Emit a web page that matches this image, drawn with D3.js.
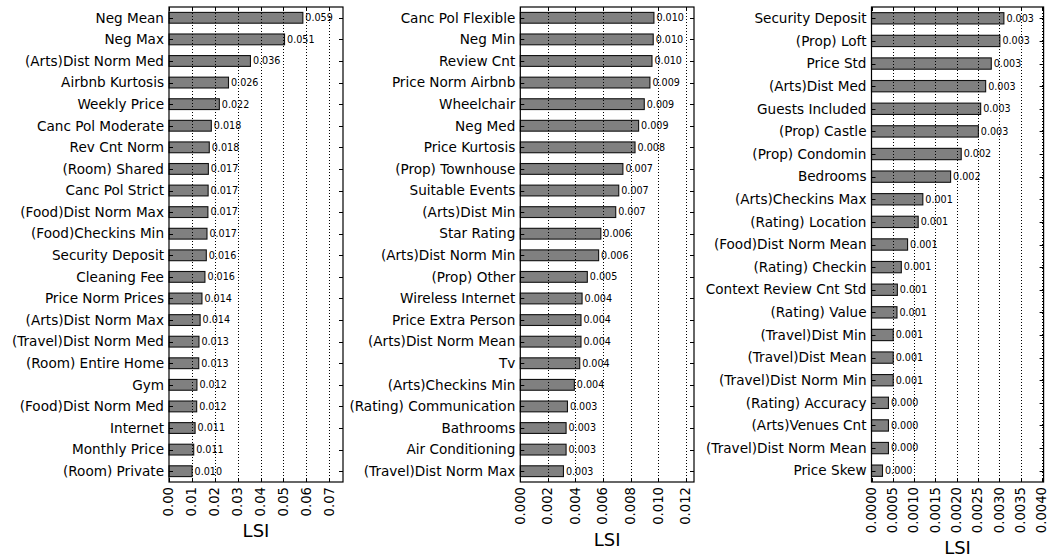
<!DOCTYPE html>
<html>
<head>
<meta charset="utf-8">
<script src="https://cdn.jsdelivr.net/npm/d3@7"></script>
<style>
  html, body { margin: 0; padding: 0; background: #fff; }
  svg { display: block; font-family: "DejaVu Sans", sans-serif; }
</style>
</head>
<body>
<svg id="chart" width="1048" height="558"></svg>
<script>
// Feature importance (LSI) split into three ranked groups
const names1 = ["Neg Mean", "Neg Max", "(Arts)Dist Norm Med", "Airbnb Kurtosis", "Weekly Price",
  "Canc Pol Moderate", "Rev Cnt Norm", "(Room) Shared", "Canc Pol Strict", "(Food)Dist Norm Max",
  "(Food)Checkins Min", "Security Deposit", "Cleaning Fee", "Price Norm Prices", "(Arts)Dist Norm Max",
  "(Travel)Dist Norm Med", "(Room) Entire Home", "Gym", "(Food)Dist Norm Med", "Internet",
  "Monthly Price", "(Room) Private"];
const values1 = [0.0585, 0.0505, 0.0356, 0.0260, 0.0220, 0.0185, 0.0176, 0.0172, 0.0171, 0.0170,
  0.0166, 0.0163, 0.0157, 0.0144, 0.0136, 0.0131, 0.0130, 0.0122, 0.0121, 0.0114, 0.0108, 0.0101];
const ticks1 = [0, 0.01, 0.02, 0.03, 0.04, 0.05, 0.06, 0.07];

const names2 = ["Canc Pol Flexible", "Neg Min", "Review Cnt", "Price Norm Airbnb", "Wheelchair",
  "Neg Med", "Price Kurtosis", "(Prop) Townhouse", "Suitable Events", "(Arts)Dist Min",
  "Star Rating", "(Arts)Dist Norm Min", "(Prop) Other", "Wireless Internet", "Price Extra Person",
  "(Arts)Dist Norm Mean", "Tv", "(Arts)Checkins Min", "(Rating) Communication", "Bathrooms",
  "Air Conditioning", "(Travel)Dist Norm Max"];
const values2 = [0.00969, 0.00964, 0.00955, 0.00940, 0.00899, 0.00858, 0.00832, 0.00744, 0.00714,
  0.00692, 0.00584, 0.00568, 0.00486, 0.00448, 0.00440, 0.00440, 0.00431, 0.00392, 0.00342,
  0.00332, 0.00332, 0.00313];
const ticks2 = [0, 0.002, 0.004, 0.006, 0.008, 0.010, 0.012];

const names3 = ["Security Deposit", "(Prop) Loft", "Price Std", "(Arts)Dist Med", "Guests Included",
  "(Prop) Castle", "(Prop) Condomin", "Bedrooms", "(Arts)Checkins Max", "(Rating) Location",
  "(Food)Dist Norm Mean", "(Rating) Checkin", "Context Review Cnt Std", "(Rating) Value",
  "(Travel)Dist Min", "(Travel)Dist Mean", "(Travel)Dist Norm Min", "(Rating) Accuracy",
  "(Arts)Venues Cnt", "(Travel)Dist Norm Mean", "Price Skew"];
const values3 = [0.003108, 0.003014, 0.002812, 0.002680, 0.002563, 0.002509, 0.002106, 0.001857,
  0.001205, 0.001096, 0.000847, 0.000700, 0.000607, 0.000598, 0.000510, 0.000510, 0.000510,
  0.000398, 0.000398, 0.000398, 0.000258];
const ticks3 = [0, 0.0005, 0.0010, 0.0015, 0.0020, 0.0025, 0.0030, 0.0035, 0.0040];

const axisTitle = "LSI";

const svg = d3.select("#chart");
const plotTop = 7, plotBottom = 482;

const panels = [
  { names: names1, values: values1, ticks: ticks1, fmt: d3.format(".2f"), left: 169, right: 343 },
  { names: names2, values: values2, ticks: ticks2, fmt: d3.format(".3f"), left: 520.3, right: 694 },
  { names: names3, values: values3, ticks: ticks3, fmt: d3.format(".4f"), left: 871.5, right: 1043.6 }
];
const valueFmt = d3.format(".3f");

panels.forEach(p => {
  const g = svg.append("g");
  const n = p.names.length;
  const xMax = d3.max(p.values) * 1.3;
  const x = d3.scaleLinear().domain([0, xMax]).range([p.left, p.right]);
  const y = d3.scaleBand().domain(d3.range(n)).range([plotTop, plotBottom]).paddingInner(0.5).paddingOuter(0.25);
  const rowY = i => y(i) + y.bandwidth() / 2;

  // bars
  g.selectAll("rect.bar").data(p.values).join("rect")
    .attr("class", "bar")
    .attr("x", x(0))
    .attr("y", (d, i) => y(i))
    .attr("width", d => x(d) - x(0))
    .attr("height", y.bandwidth())
    .attr("fill", "#808080")
    .attr("stroke", "#111")
    .attr("stroke-width", 1.1);

  // dotted vertical grid, drawn over the bars
  g.selectAll("line.grid").data(p.ticks.slice(1)).join("line")
    .attr("class", "grid")
    .attr("x1", d => Math.round(x(d)) + 0.5).attr("x2", d => Math.round(x(d)) + 0.5)
    .attr("y1", plotTop).attr("y2", plotBottom)
    .attr("stroke", "#000").attr("stroke-width", 1)
    .attr("stroke-dasharray", "1,2");

  // value labels
  g.selectAll("text.val").data(p.values).join("text")
    .attr("class", "val")
    .attr("x", d => x(d) + 2.5)
    .attr("y", (d, i) => rowY(i))
    .attr("dy", "0.35em")
    .attr("font-size", 9.6)
    .attr("fill", "#000")
    .text(d => valueFmt(d));

  // category labels
  g.selectAll("text.cat").data(p.names).join("text")
    .attr("class", "cat")
    .attr("x", p.left - 5)
    .attr("y", (d, i) => rowY(i))
    .attr("dy", "0.35em")
    .attr("text-anchor", "end")
    .attr("font-size", 13.6)
    .attr("fill", "#000")
    .text(d => d);

  // y ticks inside, both spines
  g.selectAll("line.yl").data(p.names).join("line")
    .attr("class", "yl")
    .attr("x1", p.left).attr("x2", p.left + 4)
    .attr("y1", (d, i) => Math.round(rowY(i)) + 0.5).attr("y2", (d, i) => Math.round(rowY(i)) + 0.5)
    .attr("stroke", "#000");
  g.selectAll("line.yr").data(p.names).join("line")
    .attr("class", "yr")
    .attr("x1", p.right).attr("x2", p.right - 4)
    .attr("y1", (d, i) => Math.round(rowY(i)) + 0.5).attr("y2", (d, i) => Math.round(rowY(i)) + 0.5)
    .attr("stroke", "#000");

  // x ticks inside, top and bottom
  g.selectAll("line.xt").data(p.ticks).join("line")
    .attr("class", "xt")
    .attr("x1", d => Math.round(x(d)) + 0.5).attr("x2", d => Math.round(x(d)) + 0.5)
    .attr("y1", plotTop).attr("y2", plotTop + 4)
    .attr("stroke", "#000");
  g.selectAll("line.xb").data(p.ticks).join("line")
    .attr("class", "xb")
    .attr("x1", d => Math.round(x(d)) + 0.5).attr("x2", d => Math.round(x(d)) + 0.5)
    .attr("y1", plotBottom).attr("y2", plotBottom - 4)
    .attr("stroke", "#000");

  // frame
  g.append("rect")
    .attr("x", p.left).attr("y", plotTop)
    .attr("width", p.right - p.left).attr("height", plotBottom - plotTop)
    .attr("fill", "none").attr("stroke", "#000").attr("stroke-width", 1.2);

  // rotated tick labels
  const tl = g.selectAll("text.xtl").data(p.ticks).join("text")
    .attr("class", "xtl")
    .attr("transform", d => `translate(${x(d)},${plotBottom + 5}) rotate(-90)`)
    .attr("text-anchor", "end")
    .attr("dy", "0.33em")
    .attr("font-size", 13.2)
    .attr("fill", "#000")
    .text(d => p.fmt(d));

  // axis title below the tick labels
  let maxLen = 0;
  tl.each(function () { maxLen = Math.max(maxLen, this.getComputedTextLength()); });
  g.append("text")
    .attr("x", (p.left + p.right) / 2)
    .attr("y", plotBottom + 5 + maxLen + 21)
    .attr("text-anchor", "middle")
    .attr("font-size", 18)
    .attr("fill", "#000")
    .text(axisTitle);
});
</script>
</body>
</html>
